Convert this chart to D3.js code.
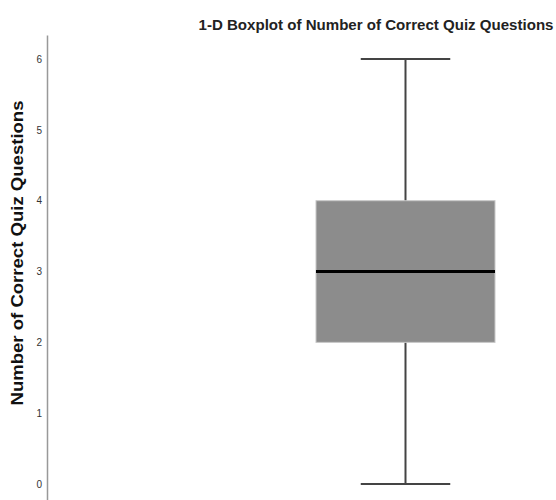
<!DOCTYPE html>
<html>
<head>
<meta charset="utf-8">
<script src="https://cdn.jsdelivr.net/npm/d3@7"></script>
<style>
  html, body { margin: 0; padding: 0; background: #fff; }
</style>
</head>
<body>
<div id="chart"></div>
<script>
const categories = ['Number of Correct Quiz Questions']
const stats = [{ min: 0, q1: 2, median: 3, q3: 4, max: 6 }]
const tickValues = [0, 1, 2, 3, 4, 5, 6]

const W = 556, H = 500
const FONT = "'Liberation Sans', Arial, sans-serif"

const svg = d3.select('#chart').append('svg')
  .attr('width', W).attr('height', H)
  .style('font-family', FONT)

const y = d3.scaleLinear().domain([-0.226, 6.34]).range([500, 35])
const x = d3.scaleBand().domain(categories).range([316, 495]).padding(0)

// axis
const yAxis = svg.append('g')
  .attr('transform', 'translate(47,0)')
  .call(d3.axisLeft(y).tickValues(tickValues).tickSize(0).tickPadding(5).tickFormat(d3.format('d')))
yAxis.select('.domain').attr('stroke', '#999').attr('stroke-width', 1.5)
yAxis.selectAll('text').attr('fill', '#333').attr('font-size', '10px').attr('font-family', FONT)

// box plots
const g = svg.append('g')
categories.forEach((c, i) => {
  const s = stats[i]
  const x0 = x(c), bw = x.bandwidth(), cx = x0 + bw / 2
  const capW = bw / 2
  g.append('line')
    .attr('x1', cx).attr('x2', cx).attr('y1', y(s.max)).attr('y2', y(s.min))
    .attr('stroke', '#444').attr('stroke-width', 2)
  ;[s.min, s.max].forEach(v => {
    g.append('line')
      .attr('x1', cx - capW / 2).attr('x2', cx + capW / 2)
      .attr('y1', y(v)).attr('y2', y(v))
      .attr('stroke', '#444').attr('stroke-width', 2)
  })
  g.append('rect')
    .attr('x', x0).attr('width', bw)
    .attr('y', y(s.q3)).attr('height', y(s.q1) - y(s.q3))
    .attr('fill', '#8c8c8c').attr('stroke', '#c8c8c8').attr('stroke-width', 1)
  g.append('line')
    .attr('x1', x0).attr('x2', x0 + bw)
    .attr('y1', y(s.median)).attr('y2', y(s.median))
    .attr('stroke', '#000').attr('stroke-width', 3)
})

// title
svg.append('text')
  .attr('x', 376).attr('y', 30)
  .attr('text-anchor', 'middle')
  .attr('font-size', '15px').attr('font-weight', 'bold')
  .attr('fill', '#222')
  .attr('textLength', 355).attr('lengthAdjust', 'spacingAndGlyphs')
  .text('1-D Boxplot of Number of Correct Quiz Questions')

// y label
svg.append('text')
  .attr('transform', 'translate(23,253) rotate(-90)')
  .attr('text-anchor', 'middle')
  .attr('font-size', '16px').attr('font-weight', 'bold')
  .attr('fill', '#111')
  .attr('textLength', 305).attr('lengthAdjust', 'spacingAndGlyphs')
  .text('Number of Correct Quiz Questions')
</script>
</body>
</html>
